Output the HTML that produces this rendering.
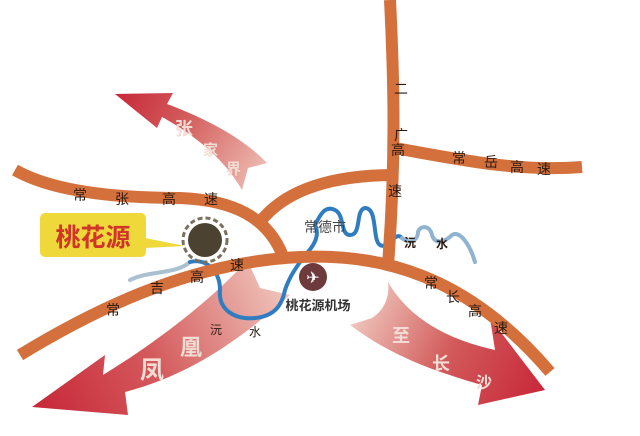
<!DOCTYPE html>
<html><head><meta charset="utf-8"><style>
html,body{margin:0;padding:0;background:#fff;}
svg{display:block;}
text{font-family:"Liberation Sans","Noto Sans CJK SC",sans-serif;}
</style></head><body>
<svg width="640" height="436" viewBox="0 0 640 436" xmlns="http://www.w3.org/2000/svg">
<defs>
<linearGradient id="g1" x1="115" y1="95" x2="265" y2="185" gradientUnits="userSpaceOnUse">
<stop offset="0" stop-color="#c8283a"/><stop offset="0.4" stop-color="#d25a5a"/><stop offset="1" stop-color="#f0c2b8"/></linearGradient>
<linearGradient id="g2" x1="35" y1="405" x2="285" y2="280" gradientUnits="userSpaceOnUse">
<stop offset="0" stop-color="#c8283a"/><stop offset="0.45" stop-color="#d45a5c"/><stop offset="1" stop-color="#f0c8be"/></linearGradient>
<linearGradient id="g3" x1="360" y1="300" x2="545" y2="390" gradientUnits="userSpaceOnUse">
<stop offset="0" stop-color="#f0c8be"/><stop offset="0.5" stop-color="#d25a5a"/><stop offset="1" stop-color="#c8283a"/></linearGradient>
</defs>
<!-- arrows -->
<path d="M115,94 L173,93 L167,104 C210,120 245,140 267,163 L248,168 L242,190 C225,160 195,135 162,117 L157,128 Z" fill="url(#g1)"/>
<path d="M32,407 L105,355 L103,375 C160,340 210,300 240,268 L250,266 L260,288 L290,295 C240,340 190,375 125,392 L128,415 Z" fill="url(#g2)"/>
<path d="M388,282 C410,320 450,340 495,350 L490,318 L545,390 L478,405 L482,385 C430,370 390,355 350,325 L372,318 C385,310 390,295 388,282 Z" fill="url(#g3)"/>
<!-- river -->
<path d="M130,280 C150,270 175,275 190,262" stroke="#a9c0d0" stroke-width="4" fill="none" stroke-linecap="round"/>
<path d="M190,262 C205,258 220,270 220,290 C218,310 235,320 255,318 C275,316 282,305 285,290 C290,275 298,265 305,255 C315,245 320,235 315,225 C320,215 325,205 335,210 C345,215 340,235 350,235 C362,235 355,210 365,208 C378,208 372,240 380,245 C388,250 395,230 402,238" stroke="#2f7cc0" stroke-width="4" fill="none" stroke-linecap="round"/>
<path d="M402,238 C410,245 418,240 418,232 C420,225 430,225 432,235 C435,245 445,242 452,235 C460,230 470,245 475,262" stroke="#8fb3d0" stroke-width="4" fill="none" stroke-linecap="round"/>
<!-- roads -->
<g stroke="#d4703c" stroke-width="12" fill="none" stroke-linecap="butt">
<path d="M15,170 C50,190 110,198 180,198 C230,200 270,215 285,262"/>
<path d="M260,222 C285,190 330,175 395,175"/>
<path d="M390,0 C394,80 396,160 388,265"/>
<path d="M395,148 C460,160 520,172 582,167"/>
<path d="M20,355 C110,300 200,262 300,257 C400,252 480,290 550,372"/>
</g>
<!-- road labels -->
<g font-size="14" fill="#2a1a10">
<text x="73" y="200">常</text><text x="115" y="204">张</text><text x="162" y="204">高</text><text x="204" y="204">速</text>
<text x="106" y="315">常</text><text x="150" y="293">吉</text><text x="190" y="282">高</text><text x="230" y="270">速</text>
<text x="394" y="94">二</text><text x="394" y="140">广</text><text x="391" y="155">高</text><text x="388" y="196">速</text>
<text x="452" y="163">常</text><text x="484" y="167">岳</text><text x="510" y="172">高</text><text x="537" y="174">速</text>
<text x="424" y="288">常</text><text x="446" y="302">长</text><text x="468" y="316">高</text><text x="494" y="333">速</text>
<text x="304" y="232" fill="#444">常德市</text>
<text x="404" y="247" font-weight="bold" font-size="12">沅</text><text x="436" y="248" font-weight="bold" font-size="12">水</text>
<text x="210" y="334" font-size="12">沅</text><text x="249" y="336" font-size="12">水</text>
</g>
<!-- arrow labels -->
<g fill="#f3dcd4" font-weight="bold" font-size="18">
<text x="175" y="135">张</text><text x="203" y="155" font-size="15">家</text><text x="226" y="174" font-size="15">界</text>
<text x="140" y="378" font-size="24">凤</text><text x="180" y="355" font-size="22">凰</text>
<text x="392" y="342" font-size="18">至</text><text x="432" y="370" font-size="18">长</text><text x="476" y="388" font-size="16">沙</text>
</g>
<!-- callout -->
<path d="M145,238 L185,246 L145,248 Z" fill="#efd93a"/>
<rect x="40" y="213" width="106" height="44" rx="5" fill="#efd93a"/>
<text x="93" y="246" text-anchor="middle" font-size="25" font-weight="bold" fill="#d0352a">桃花源</text>
<circle cx="205" cy="240" r="22" fill="none" stroke="#7a7060" stroke-width="3" stroke-dasharray="5 3"/>
<circle cx="205" cy="240" r="17" fill="#4b4232"/>
<!-- airport -->
<circle cx="313" cy="277" r="14" fill="#6e3a3c"/>
<text x="313" y="283" text-anchor="middle" font-size="16" fill="#fff">✈</text>
<text x="318" y="310" text-anchor="middle" font-size="13" font-weight="bold" fill="#333">桃花源机场</text>
</svg>
</body></html>
